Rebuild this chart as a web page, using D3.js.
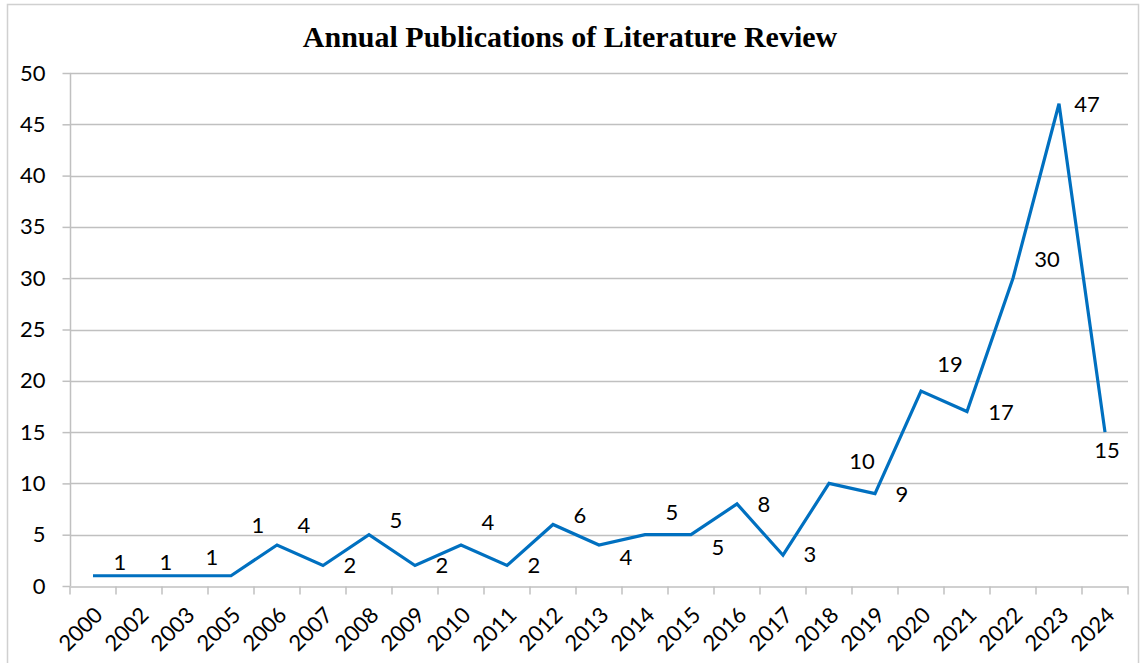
<!DOCTYPE html>
<html><head><meta charset="utf-8">
<script src="https://cdn.jsdelivr.net/npm/d3@7"></script>
<style>body{margin:0;background:#fff}svg{display:block}</style>
</head><body>
<svg id="c" width="1141" height="663"></svg>
<script>
const title = "Annual Publications of Literature Review";
const years = ["2000","2002","2003","2005","2006","2007","2008","2009","2010","2011","2012","2013","2014","2015","2016","2017","2018","2019","2020","2021","2022","2023","2024"];
const counts = [1,1,1,1,4,2,5,2,4,2,6,4,5,5,8,3,10,9,19,17,30,47,15];
const labelTexts = ["1","1","1","1","4","2","5","2","4","2","6","4","5","5","8","3","10","9","19","17","30","47","15"];
const yTicks = [0,5,10,15,20,25,30,35,40,45,50];
// label placement offsets (px) relative to each point — styling only
const labelOffsets = [[27,-14],[27,-14],[27,-19],[27,-51],[27,-20],[27,0],[27,-15],[27,0],[27,-23],[27,0],[27,-9],[27,12],[27,-23],[27,12],[27,0],[27,-1],[33,-22],[27,0],[29,-27],[34,0],[34,-19],[28,0],[2,18]];

const svg = d3.select("#c");
const L = 70, R = 1128, T = 73, B = 586;
const FONT = "Lato,'Open Sans',sans-serif";
svg.append("rect").attr("x",7.5).attr("y",4.5).attr("width",1131).attr("height",700)
  .attr("fill","none").attr("stroke","#d0d0d0").attr("stroke-width",1.5);

const x = d3.scaleBand().domain(years).range([L,R]).paddingInner(0).paddingOuter(0);
const y = d3.scaleLinear().domain([0,50]).range([B,T]);

svg.append("text").attr("x",570).attr("y",47).attr("text-anchor","middle")
  .attr("font-family","'Liberation Serif','Times New Roman',serif").attr("font-weight","bold")
  .attr("font-size",30).attr("fill","#000").text(title);

// gridlines
svg.append("g").selectAll("line").data(yTicks.filter(d=>d>0)).join("line")
  .attr("x1",L).attr("x2",R).attr("y1",d=>Math.round(y(d))+0.5).attr("y2",d=>Math.round(y(d))+0.5)
  .attr("stroke","#c0c0c0").attr("stroke-width",1.5);

// y axis
const ya = svg.append("g").attr("transform",`translate(${L+0.5},0)`)
  .call(d3.axisLeft(y).tickValues(yTicks).tickSize(8).tickPadding(17));
ya.select(".domain").attr("stroke","#c0c0c0").attr("stroke-width",1.5).attr("d",`M0,${T}V${B}`);
ya.selectAll(".tick line").attr("stroke","#c0c0c0").attr("stroke-width",1.5);
ya.selectAll(".tick text").attr("font-family",FONT).attr("font-size",22).attr("fill","#000");

// x axis
const xa = svg.append("g").attr("transform",`translate(0,${B+0.5})`)
  .call(d3.axisBottom(x).tickSize(0).tickPadding(0));
xa.select(".domain").attr("stroke","#c0c0c0").attr("stroke-width",1.5);
xa.selectAll(".tick line").remove();
const bounds = years.map(d=>x(d)).concat([R]);
xa.append("g").selectAll("line").data(bounds).join("line")
  .attr("x1",d=>d).attr("x2",d=>d).attr("y1",0).attr("y2",8)
  .attr("stroke","#c0c0c0").attr("stroke-width",1.5);
xa.selectAll(".tick text").attr("font-family",FONT).attr("font-size",22).attr("fill","#000")
  .attr("text-anchor","end").attr("dy",0).attr("transform","translate(11,30) rotate(-45)");

// line
const cx = (d,i)=>x(years[i])+x.bandwidth()/2;
svg.append("path").datum(counts)
  .attr("d",d3.line().x(cx).y(d=>y(d)))
  .attr("fill","none").attr("stroke","#0070C0").attr("stroke-width",3.2).attr("stroke-linejoin","miter");

// data labels
svg.append("g").selectAll("text").data(counts).join("text")
  .attr("x",(d,i)=>cx(d,i)+labelOffsets[i][0])
  .attr("y",(d,i)=>y(d)+labelOffsets[i][1])
  .attr("dy","0.36em").attr("text-anchor","middle")
  .attr("font-family",FONT).attr("font-size",22).attr("fill","#000")
  .text((d,i)=>labelTexts[i]);
</script>
</body></html>
